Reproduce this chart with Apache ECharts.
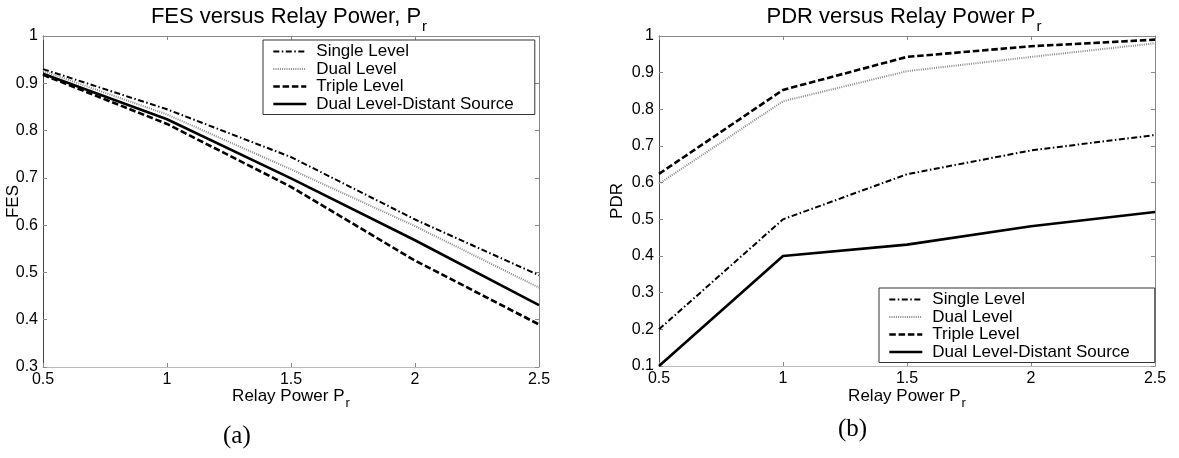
<!DOCTYPE html>
<html>
<head>
<meta charset="utf-8">
<script src="https://cdn.jsdelivr.net/npm/echarts@6/dist/echarts.min.js"></script>
<style>
html,body{margin:0;padding:0;background:#fff;}
#chart{width:1179px;height:458px;}
</style>
</head>
<body>
<div id="chart"></div>
<script>
// ---- data ----
const relayPower = [0.5, 1, 1.5, 2, 2.5];
const seriesNames = ['Single Level', 'Dual Level', 'Triple Level', 'Dual Level-Distant Source'];

const fesSingle  = [0.930, 0.845, 0.744, 0.612, 0.494];
const fesDual    = [0.926, 0.834, 0.718, 0.598, 0.468];
const fesTriple  = [0.918, 0.814, 0.681, 0.525, 0.390];
const fesDistant = [0.920, 0.824, 0.699, 0.568, 0.431];

const pdrSingle  = [0.200, 0.500, 0.623, 0.688, 0.730];
const pdrDual    = [0.597, 0.822, 0.904, 0.943, 0.980];
const pdrTriple  = [0.624, 0.853, 0.943, 0.972, 0.990];
const pdrDistant = [0.100, 0.400, 0.431, 0.481, 0.520];

const titleA = 'FES versus Relay Power, P';
const titleB = 'PDR versus Relay Power P';
const xName = 'Relay Power P';
const yNameA = 'FES';
const yNameB = 'PDR';
const captionA = '(a)';
const captionB = '(b)';

// ---- styles ----
const FONT = 'Liberation Sans, Arial, sans-serif';
const styles = [
  {color: '#000', width: 2,   type: [6, 2.5, 1.5, 2.5]},
  {color: '#8a8a8a', width: 2, type: [1, 1.2]},
  {color: '#000', width: 2.6, type: [6.5, 2.8]},
  {color: '#000', width: 2.6, type: 'solid'}
];

function pairs(vals) { return relayPower.map((x, i) => [x, vals[i]]); }

function makeSeries(valsList, gi) {
  return valsList.map((vals, i) => ({
    name: seriesNames[i],
    type: 'line',
    xAxisIndex: gi * 2,
    yAxisIndex: gi * 2,
    symbol: 'none',
    silent: true,
    animation: false,
    lineStyle: {color: styles[i].color, width: styles[i].width, type: styles[i].type},
    itemStyle: {color: styles[i].color},
    data: pairs(vals),
    z: i === 1 ? 3 : 2
  }));
}

function xAxes(gi) {
  const base = {type: 'value', gridIndex: gi, min: 0.5, max: 2.5, interval: 0.5, splitLine: {show: false}};
  return [
    Object.assign({}, base, {
      position: 'bottom',
      name: '{m|' + xName + '}{s|r}',
      nameLocation: 'middle',
      nameGap: gi === 0 ? 15 : 16,
      nameMoveOverlap: false,
      nameTextStyle: {
        fontFamily: FONT, fontSize: 17, color: '#000',
        rich: {m: {fontFamily: FONT, fontSize: 17, color: '#000'},
               s: {fontFamily: FONT, fontSize: 13, color: '#000', padding: [15, 0, 0, 1]}}
      },
      axisLine: {show: true, lineStyle: {color: '#bbb', width: 1}},
      axisTick: {show: true, inside: true, length: 4, lineStyle: {color: '#888'}},
      axisLabel: {show: true, margin: 5, fontFamily: FONT, fontSize: 16, color: '#000'}
    }),
    Object.assign({}, base, {
      position: 'top',
      axisLine: {show: true, lineStyle: {color: '#888', width: 1}},
      axisTick: {show: true, inside: true, length: 4, lineStyle: {color: '#888'}},
      axisLabel: {show: false}
    })
  ];
}

function yAxes(gi, min, name, gap) {
  const base = {type: 'value', gridIndex: gi, min: min, max: 1, interval: 0.1, splitLine: {show: false}};
  return [
    Object.assign({}, base, {
      position: 'left',
      name: name,
      nameLocation: 'middle',
      nameGap: gap,
      nameMoveOverlap: false,
      nameTextStyle: {fontFamily: FONT, fontSize: 17, color: '#000'},
      axisLine: {show: true, lineStyle: {color: '#444', width: 1}},
      axisTick: {show: true, inside: true, length: 4, lineStyle: {color: '#888'}},
      axisLabel: {show: true, margin: 5, fontFamily: FONT, fontSize: 16, color: '#000'}
    }),
    Object.assign({}, base, {
      position: 'right',
      axisLine: {show: true, lineStyle: {color: '#888', width: 1}},
      axisTick: {show: true, inside: true, length: 4, lineStyle: {color: '#888'}},
      axisLabel: {show: false}
    })
  ];
}

function legend(left, top, padRight) {
  return {
    data: seriesNames.map((n, i) => ({
      name: n,
      lineStyle: {color: styles[i].color, width: styles[i].width, type: styles[i].type},
      itemStyle: {opacity: 0}
    })),
    orient: 'vertical',
    left: left, top: top,
    itemWidth: 33, itemHeight: 14, itemGap: 0.5,
    padding: [3, padRight, 2, 9],
    backgroundColor: '#fff',
    borderColor: '#333', borderWidth: 1, borderRadius: 0,
    selectedMode: false,
    itemStyle: {opacity: 0},
    textStyle: {fontFamily: FONT, fontSize: 17, color: '#000', padding: [0, 0, 0, 5]}
  };
}

function title(text, cx) {
  return {
    text: '{m|' + text + '}{s|r}',
    left: cx, top: 17,
    textAlign: 'center', textVerticalAlign: 'middle',
    padding: 0,
    textStyle: {
      fontFamily: FONT, fontSize: 22, fontWeight: 'normal', color: '#000',
      rich: {m: {fontFamily: FONT, fontSize: 22, color: '#000'},
             s: {fontFamily: FONT, fontSize: 15, color: '#000', padding: [20, 0, 0, 1]}}
    }
  };
}

const chart = echarts.init(document.getElementById('chart'), null, {renderer: 'canvas'});
chart.setOption({
  animation: false,
  backgroundColor: '#fff',
  title: [title(titleA, 289), title(titleB, 904)],
  grid: [
    {left: 43, right: 640, top: 36, bottom: 91, containLabel: false, outerBoundsMode: 'none'},
    {left: 659, right: 24, top: 36, bottom: 92, containLabel: false, outerBoundsMode: 'none'}
  ],
  xAxis: xAxes(0).concat(xAxes(1)),
  yAxis: yAxes(0, 0.3, yNameA, 21).concat(yAxes(1, 0.1, yNameB, 33)),
  legend: [legend(263, 40, 21), legend(879, 288, 25)],
  series: makeSeries([fesSingle, fesDual, fesTriple, fesDistant], 0)
    .concat(makeSeries([pdrSingle, pdrDual, pdrTriple, pdrDistant], 1)),
  graphic: [
    {type: 'text', left: 223, top: 424, silent: true,
     style: {text: captionA, font: '25px "Liberation Serif", "Times New Roman", serif', fill: '#000'}},
    {type: 'text', left: 838, top: 417, silent: true,
     style: {text: captionB, font: '25px "Liberation Serif", "Times New Roman", serif', fill: '#000'}}
  ]
});
</script>
</body>
</html>
